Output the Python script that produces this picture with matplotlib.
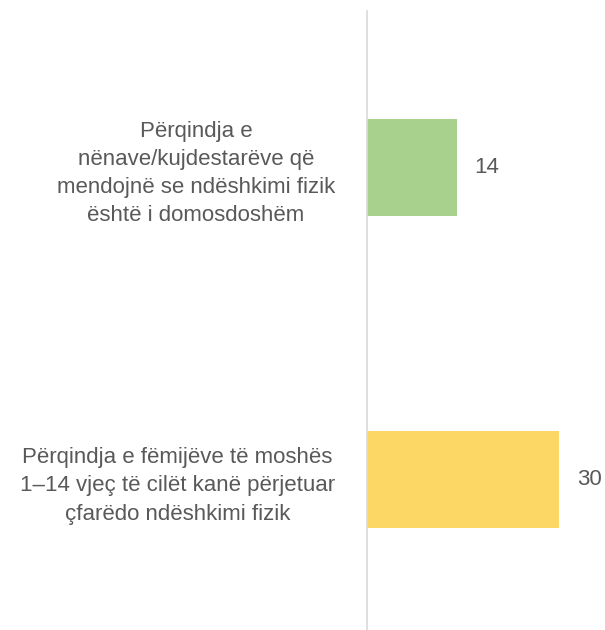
import matplotlib.pyplot as plt

categories = [
    "Përqindja e\nnënave/kujdestarëve që\nmendojnë se ndëshkimi fizik\nështë i domosdoshëm",
    "Përqindja e fëmijëve të moshës\n1–14 vjeç të cilët kanë përjetuar\nçfarëdo ndëshkimi fizik",
]
values = [14, 30]
colors = ["#A9D18E", "#FDD766"]

plt.rcParams["font.family"] = ["Liberation Sans", "DejaVu Sans"]
TEXT_COLOR = "#595959"

fig = plt.figure(figsize=(6.05, 6.3), dpi=100)
ax = fig.add_axes([0.6066, -0.0095, 0.3934, 0.992])

positions = list(range(len(values)))
bars = ax.barh(positions, values, height=0.31, color=colors)

ax.set_xlim(0, 37.2)
ax.set_ylim(1.5, -0.5)

ax.set_yticks(positions)
ax.set_yticklabels(categories, fontsize=16, color=TEXT_COLOR,
                   multialignment="center", linespacing=1.45)
ax.tick_params(axis="y", length=0, pad=23)
ax.set_xticks([])

for spine in ["top", "right", "bottom"]:
    ax.spines[spine].set_visible(False)
ax.spines["left"].set_color("#D9D9D9")
ax.spines["left"].set_linewidth(1.2)

for bar, value in zip(bars, values):
    ax.annotate(
        f"{value}",
        (bar.get_width(), bar.get_y() + bar.get_height() / 2),
        xytext=(13, 0),
        textcoords="offset points",
        va="center",
        ha="left",
        fontsize=16,
        color=TEXT_COLOR,
    )

fig.savefig("out.png", dpi=100)
